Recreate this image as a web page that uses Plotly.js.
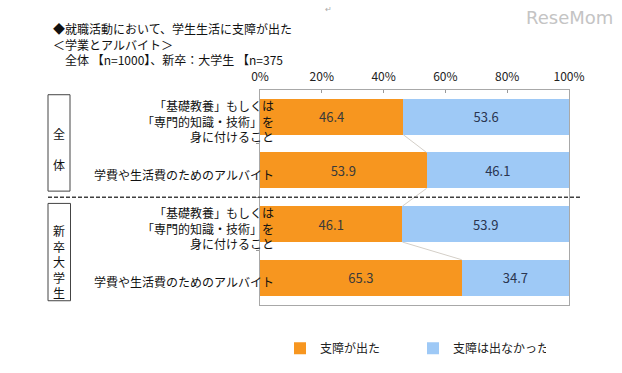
<!DOCTYPE html>
<html>
<head>
<meta charset="utf-8">
<script src="https://cdn.plot.ly/plotly-3.0.1.min.js"></script>
<style>html,body{margin:0;padding:0;background:#fff;}#chart{width:622px;height:373px;}</style>
</head>
<body>
<div id="chart"></div>
<script>
// ---- data ----
const categories = [
  '「基礎教養」もしくは<br>「専門的知識・技術」を<br>身に付けること',
  '学費や生活費のためのアルバイト',
  '「基礎教養」もしくは<br>「専門的知識・技術」を<br>身に付けること',
  '学費や生活費のためのアルバイト'
];
const groups = ['全体', '新卒大学生'];
const hadImpact = [46.4, 53.9, 46.1, 65.3];
const noImpact = [53.6, 46.1, 53.9, 34.7];
const seriesNames = ['支障が出た', '支障は出なかった'];
const xTickValues = [0, 20, 40, 60, 80, 100];
const xTickLabels = ['0%', '20%', '40%', '60%', '80%', '100%'];
const titleLines = [
  '◆就職活動において、学生生活に支障が出た',
  '＜学業とアルバイト＞',
  '\u3000全体 【n=1000】、新卒：大学生 【n=375'
];

// ---- layout helpers ----
const W = 622, H = 373;
const M = {l: 260, r: 53, t: 90, b: 10};
const plotBottom = 317;
const PW = W - M.l - M.r, PH = H - M.t - M.b;
const px = p => (p - M.l) / PW;
const py = p => (H - M.b - p) / PH;
const yDomain = [py(plotBottom), 1];
const barWidth = 0.67;
const yIdx = categories.map((_, i) => i);
const font = 'Noto Sans CJK JP, Noto Sans, sans-serif';

const orange = '#F7961F';
const blue = '#9EC9F6';

const traces = [
  {
    type: 'bar', orientation: 'h', name: seriesNames[0],
    y: yIdx, x: hadImpact, width: barWidth,
    marker: {color: orange},
    texttemplate: '%{x:.1f}', textposition: 'inside', insidetextanchor: 'middle',
    textfont: {size: 13, color: '#3a3a3a', family: font},
    hoverinfo: 'x+name'
  },
  {
    type: 'bar', orientation: 'h', name: seriesNames[1],
    y: yIdx, x: noImpact, width: barWidth,
    marker: {color: blue},
    texttemplate: '%{x:.1f}', textposition: 'inside', insidetextanchor: 'middle',
    textfont: {size: 13, color: '#2a3550', family: font},
    hoverinfo: 'x+name'
  }
];

// series connector lines between consecutive orange bar ends
const cx = [], cy = [];
for (let i = 0; i < hadImpact.length - 1; i++) {
  cx.push(hadImpact[i], hadImpact[i + 1], null);
  cy.push(yIdx[i] + barWidth / 2, yIdx[i + 1] - barWidth / 2, null);
}
traces.push({
  type: 'scatter', mode: 'lines', x: cx, y: cy,
  line: {color: '#d4cfc8', width: 1}, showlegend: false, hoverinfo: 'skip'
});

const annotations = [];
// title block
annotations.push({
  xref: 'paper', yref: 'paper', x: px(52), y: py(15),
  xanchor: 'left', yanchor: 'top', align: 'left', showarrow: false, borderpad: 0,
  text: titleLines.join('<br>'),
  font: {size: 12, color: '#111', family: font}
});
// watermark
annotations.push({
  xref: 'paper', yref: 'paper', x: px(615), y: py(13), xanchor: 'right', yanchor: 'middle',
  showarrow: false, text: 'ReseMom', font: {size: 18, color: '#c4c4c4', family: 'DejaVu Sans, sans-serif'}
});
annotations.push({
  xref: 'paper', yref: 'paper', x: px(328), y: py(4), xanchor: 'center', yanchor: 'middle',
  showarrow: false, text: '↵', font: {size: 8, color: '#aaa', family: font}
});
// category labels
categories.forEach((c, i) => annotations.push({
  xref: 'paper', yref: 'y', x: px(276), y: yIdx[i], yshift: -4,
  xanchor: 'right', yanchor: 'middle', align: 'right', showarrow: false, text: c,
  font: {size: 12, color: '#111', family: font}
}));
// group labels (vertical)
const groupText = [Array.from(groups[0]).join('<br><br>'), Array.from(groups[1]).join('<br>')];
const groupCenterY = [152, 271];
groups.forEach((g, gi) => annotations.push({
  xref: 'paper', yref: 'paper', x: px(59), y: py(groupCenterY[gi]),
  xanchor: 'center', yanchor: 'middle', showarrow: false, text: groupText[gi],
  font: {size: 12, color: '#111', family: font}
}));

const shapes = [
  {type: 'rect', xref: 'paper', yref: 'paper', x0: px(48), x1: px(70), y0: py(95), y1: py(197),
   line: {color: '#444', width: 1}},
  {type: 'rect', xref: 'paper', yref: 'paper', x0: px(48), x1: px(70.5), y0: py(210), y1: py(313),
   line: {color: '#444', width: 1}},
  {type: 'line', xref: 'paper', yref: 'y', x0: px(48), x1: px(582), y0: 1.5, y1: 1.5,
   line: {color: '#404040', width: 1.5, dash: '4px,2px'}}
];

const layout = {
  width: W, height: H,
  margin: M,
  paper_bgcolor: '#fff', plot_bgcolor: '#fff',
  font: {family: font, color: '#222'},
  barmode: 'stack',
  showlegend: true,
  legend: {
    orientation: 'h', x: px(280), y: py(348), xanchor: 'left', yanchor: 'top',
    entrywidth: 88, entrywidthmode: 'pixels', itemwidth: 30,
    font: {size: 12, color: '#222', family: font}, traceorder: 'normal',
    bgcolor: 'rgba(0,0,0,0)'
  },
  xaxis: {
    range: [0, 100], side: 'top', tickvals: xTickValues, ticktext: xTickLabels,
    ticks: 'inside', ticklen: 3, tickcolor: '#999', showgrid: false, zeroline: false,
    showline: true, mirror: true, linecolor: '#a8a8a8', linewidth: 1,
    tickfont: {size: 12, color: '#222', family: font}, ticklabelstandoff: 3, fixedrange: true
  },
  yaxis: {
    domain: yDomain,
    range: [3.5, -0.5], tickvals: [0.5, 1.5, 2.5], showticklabels: false,
    ticks: 'outside', ticklen: 3, tickcolor: '#999', showgrid: false, zeroline: false,
    showline: true, mirror: true, linecolor: '#a8a8a8', linewidth: 1, fixedrange: true
  },
  annotations: annotations,
  shapes: shapes
};

Plotly.newPlot('chart', traces, layout, {staticPlot: true, displayModeBar: false});
</script>
</body>
</html>
